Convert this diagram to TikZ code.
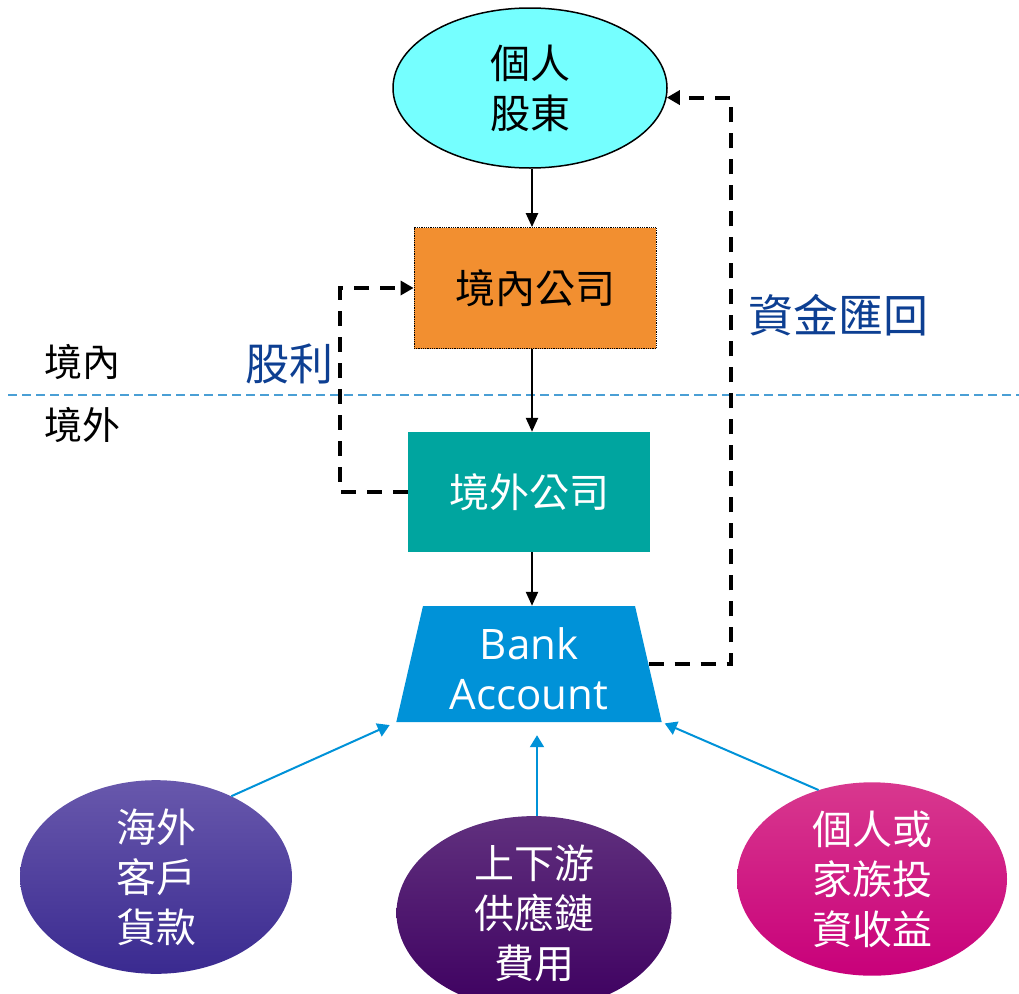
\documentclass[tikz,border=0pt]{standalone}
\usepackage{fontspec}
\setmainfont{Noto Sans CJK TC}
\newfontfamily\latinfont{Open Sans}
\usetikzlibrary{arrows.meta,shapes.geometric}
\definecolor{shcyan}{RGB}{117,255,255}
\definecolor{domorange}{RGB}{242,143,48}
\definecolor{offteal}{RGB}{0,165,159}
\definecolor{bankblue}{RGB}{0,146,216}
\definecolor{labelblue}{RGB}{13,63,146}
\definecolor{borderblue}{RGB}{74,159,213}
\tikzset{
  cjk/.style={font=\fontsize{40}{50}\selectfont,align=center,inner sep=0pt},
  banktext/.style={font=\latinfont\fontsize{42}{50}\selectfont,align=center,inner sep=0pt},
  solidarr/.style={draw=black,line width=2.3pt,-{Triangle[length=14pt,width=12pt]}},
  dasharr/.style={draw=black,line width=4pt,dash pattern=on 15pt off 11pt,-{Triangle[length=13pt,width=14pt]}},
  inarr/.style={draw=bankblue,line width=2pt,-{Triangle[length=12pt,width=14pt]}},
}
\begin{document}
\begin{tikzpicture}[x=1pt,y=1pt,yscale=-1,xscale=1]
\useasboundingbox (0,0) rectangle (1019,993);

%Shape: Ellipse [shareholder]
\node (sh) [ellipse,draw=black,line width=1.5pt,fill=shcyan,minimum width=274,minimum height=160,inner sep=0pt,cjk] at (530,88) {個人\\股東};
%Shape: Rectangle [domestic company]
\node (dom) [rectangle,draw=black,densely dotted,line width=0.8pt,fill=domorange,minimum width=242,minimum height=121,cjk] at (535,288) {境內公司};
%Shape: Rectangle [offshore company]
\node (off) [rectangle,fill=offteal,minimum width=242,minimum height=120,cjk,text=white] at (529,492) {境外公司};
%Shape: Trapezium [bank]
\node (bank) [trapezium,trapezium angle=76.4,trapezium stretches=true,minimum width=266,minimum height=116,fill=bankblue,banktext] at (529,664) {\phantom{Bank}\\\phantom{Account}};
\node (banktxt) [text=white,banktext] at (529,669) {Bank\\Account};

%Shape: Ellipse [sources]
\node (cust) [ellipse,top color={rgb,255:red,104;green,88;blue,172},bottom color={rgb,255:red,58;green,42;blue,144},minimum width=272,minimum height=154,inner sep=0pt,cjk,text=white] at (156,877) {海外\\客戶\\貨款};
\node (supply) [ellipse,top color={rgb,255:red,96;green,48;blue,126},bottom color={rgb,255:red,62;green,0;blue,96},minimum width=275,minimum height=160,inner sep=0pt,cjk,text=white] at (534,913) {上下游\\供應鏈\\費用};
\node (inv) [ellipse,top color={rgb,255:red,216;green,56;blue,142},bottom color={rgb,255:red,200;green,0;blue,122},minimum width=270,minimum height=158,inner sep=0pt,cjk,text=white] at (872,879) {個人或\\家族投\\資收益};

% Border line
\draw [borderblue,line width=1.2pt,dash pattern=on 9pt off 5pt] (8,395) -- (1019,395);
% Text Node
\node (in) [cjk,font=\fontsize{38}{40}\selectfont] at (82,362) {境內};
% Text Node
\node (out) [cjk,font=\fontsize{38}{40}\selectfont] at (82,425) {境外};
% Text Node
\node (div) [cjk,font=\fontsize{44}{46}\selectfont,text=labelblue] at (289,364) {股利};
% Text Node
\node (ret) [cjk,font=\fontsize{45}{46}\selectfont,text=labelblue] at (838,315) {資金匯回};

% Main chain
\coordinate (mainx) at (532,0);
\draw [solidarr] (sh.south -| mainx) -- (dom.north -| mainx);
\draw [solidarr] (dom.south -| mainx) -- (off.north -| mainx);
\draw [solidarr] (off.south -| mainx) -- (bank.north -| mainx);

% Dashed loops
\coordinate (divx) at (340,0);
\coordinate (retx) at (731,0);
\draw [dasharr] (off.west) -- (off.west -| divx) |- (dom.west);
\draw [dasharr] (bank.east) -- (bank.east -| retx) |- (sh.-4);

% Incoming
\coordinate (supx) at (537,0);
\draw [inarr,shorten >=7pt] (cust.47) -- (bank.bottom left corner);
\draw [inarr,shorten >=13pt] (supply.north -| supx) -- (bank.south -| supx);
\draw [inarr,shorten >=3pt] (inv.121) -- (bank.bottom right corner);

\end{tikzpicture}
\end{document}
